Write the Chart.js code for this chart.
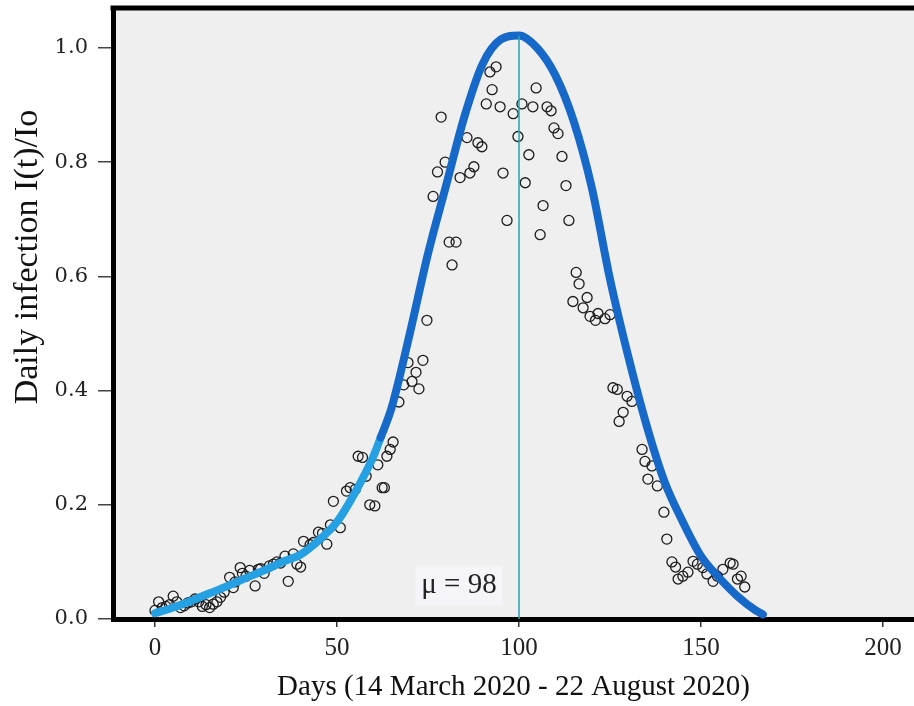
<!DOCTYPE html>
<html>
<head>
<meta charset="utf-8">
<script src="https://cdn.jsdelivr.net/npm/chart.js@4.4.0/dist/chart.umd.min.js"></script>
<style>
  html, body { margin: 0; padding: 0; background: #fff; }
  #wrap { width: 914px; height: 706px; }
</style>
</head>
<body>
<div id="wrap"><canvas id="chart" width="914" height="706"></canvas></div>
<script>
const obsDays = [
  0, 1, 2, 3, 4, 5, 6, 7, 8, 9, 10, 11, 12, 13, 14, 15, 16, 17, 18, 19,
  20.5, 21.5, 22, 23.4, 24, 25, 26, 27.5, 28.4, 29, 30, 31.4, 32.5, 33.5, 34.5, 35.7, 36.6, 38, 39, 40,
  40.8, 42.6, 43.5, 44.9, 46, 47.2, 48.2, 49, 50.9, 52.6, 53.6, 55, 55.8, 57, 58, 59, 60.4, 61.2, 62.4, 63,
  63.7, 64.6, 65.4, 67, 68.3, 69.5, 70.6, 71.7, 72.5, 73.6, 74.7, 76.4, 77.6, 78.6, 79.7, 80.8, 81.6, 82.7, 83.8, 85.7,
  86.5, 87.6, 88.7, 89.8, 91, 92, 92.6, 93.7, 94.8, 95.6, 96.7, 98.4, 99.7, 100.8, 101.7, 102.7, 103.8, 104.7, 105.8, 106.6,
  107.7, 108.8, 109.6, 110.7, 111.8, 112.9, 113.7, 114.8, 115.7, 116.5, 117.6, 118.7, 119.5, 121, 121.7, 123.6, 125, 125.8, 127, 127.5,
  128.6, 129.7, 131, 133.8, 134.6, 135.4, 136.5, 138, 139.8, 140.6, 142, 143, 143.7, 145, 146.4, 147.8, 149, 150.5, 151.6, 153.3,
  154.5, 156, 158, 158.8, 160, 161, 162
]
const obsValues = [
  0.015, 0.03, 0.02, 0.022, 0.025, 0.04, 0.03, 0.02, 0.023, 0.028, 0.03, 0.035, 0.03, 0.022, 0.025, 0.02, 0.026, 0.03, 0.038, 0.047,
  0.073, 0.055, 0.065, 0.09, 0.08, 0.075, 0.085, 0.058, 0.087, 0.088, 0.08, 0.093, 0.096, 0.1, 0.098, 0.11, 0.066, 0.114, 0.096, 0.091,
  0.136, 0.13, 0.134, 0.152, 0.15, 0.131, 0.165, 0.206, 0.16, 0.224, 0.23, 0.227, 0.285, 0.283, 0.25, 0.2, 0.198, 0.27, 0.23, 0.23,
  0.285, 0.297, 0.31, 0.38, 0.41, 0.449, 0.416, 0.432, 0.403, 0.453, 0.523, 0.74, 0.783, 0.879, 0.8, 0.66, 0.62, 0.66, 0.773, 0.843,
  0.781, 0.792, 0.834, 0.827, 0.902, 0.958, 0.927, 0.967, 0.897, 0.781, 0.698, 0.885, 0.845, 0.902, 0.764, 0.813, 0.897, 0.93, 0.673, 0.724,
  0.897, 0.89, 0.86, 0.85, 0.81, 0.759, 0.698, 0.556, 0.607, 0.587, 0.545, 0.563, 0.53, 0.523, 0.535, 0.526, 0.533, 0.405, 0.402, 0.346,
  0.362, 0.39, 0.381, 0.297, 0.276, 0.245, 0.268, 0.233, 0.187, 0.14, 0.1, 0.091, 0.07, 0.075, 0.082, 0.101, 0.096, 0.09, 0.079, 0.066,
  0.075, 0.087, 0.098, 0.096, 0.07, 0.075, 0.056
]

// fitted curve
const fitDays = [0, 5, 10, 15, 20, 25, 30, 35, 40, 45, 50, 55, 60, 62, 65, 70, 75, 80, 85, 90,
  95, 100, 105, 110, 115, 120, 125, 130, 135, 140, 145, 150, 155, 160, 165, 167]
const fitValues = [0.01, 0.02, 0.032, 0.045, 0.058, 0.072, 0.085, 0.1, 0.113, 0.138, 0.17, 0.222, 0.285, 0.318, 0.37, 0.5, 0.64, 0.76, 0.88, 0.972,
  1.015, 1.022, 1.0, 0.952, 0.872, 0.755, 0.595, 0.46, 0.34, 0.24, 0.17, 0.11, 0.072, 0.04, 0.015, 0.008]

const peakDay = 100
const peakValue = 1.022
const splitDay = 62

const xTicks = [0, 50, 100, 150, 200]
const yTicks = [0, 0.2, 0.4, 0.6, 0.8, 1.0]

const muText = 'μ = 98'
const muAt = {x: 83.5, y: 0.058}
const yTitle = 'Daily infection I(t)/Io'

const lightBlue = '#25a0e2'
const darkBlue = '#1668c9'

const pairs = (xs, ys) => xs.map((x, i) => ({x: x, y: ys[i]}))

const frame = {
  id: 'frame',
  beforeDraw(chart) {
    const {ctx, chartArea: a} = chart
    ctx.save()
    ctx.fillStyle = '#efefef'
    ctx.fillRect(a.left, a.top, a.right - a.left, a.bottom - a.top)
    ctx.restore()
  },
  afterDatasetsDraw(chart) {
    const {ctx, chartArea: a, scales} = chart
    ctx.save()
    ctx.strokeStyle = '#000'
    ctx.lineWidth = 5
    ctx.beginPath()
    ctx.moveTo(a.left - 2.5, a.top)
    ctx.lineTo(a.right, a.top)
    ctx.stroke()

    // mu label
    let x = scales.x.getPixelForValue(muAt.x)
    let y = scales.y.getPixelForValue(muAt.y)
    ctx.font = '29px "Liberation Serif"'
    let w = ctx.measureText(muText).width
    ctx.fillStyle = '#f5f5f9'
    ctx.fillRect(x - w / 2 - 6, y - 20, w + 12, 40)
    ctx.fillStyle = '#222'
    ctx.textAlign = 'center'
    ctx.textBaseline = 'middle'
    ctx.fillText(muText, x, y)

    // y axis title, sits above the middle like the original
    ctx.translate(28, 257)
    ctx.rotate(-Math.PI / 2)
    ctx.font = '34px "Liberation Serif"'
    ctx.fillStyle = '#111'
    ctx.fillText(yTitle, 0, 0)
    ctx.restore()
  }
}

new Chart(document.getElementById('chart'), {
  type: 'line',
  data: {
    datasets: [
      {
        type: 'line',
        data: [{x: peakDay, y: 0}, {x: peakDay, y: peakValue}],
        borderColor: '#23a4b6',
        borderWidth: 1.5,
        pointRadius: 0,
        order: 0
      },
      {
        type: 'line',
        data: pairs(fitDays, fitValues),
        borderColor: darkBlue,
        borderWidth: 8,
        borderCapStyle: 'round',
        borderJoinStyle: 'round',
        pointRadius: 0,
        cubicInterpolationMode: 'monotone',
        segment: {
          borderColor: c => c.p0.parsed.x < splitDay ? lightBlue : darkBlue
        },
        order: 1
      },
      {
        type: 'scatter',
        data: pairs(obsDays, obsValues),
        pointStyle: 'circle',
        pointRadius: 5,
        borderColor: '#1c1c1c',
        borderWidth: 1.3,
        backgroundColor: 'rgba(0,0,0,0)',
        order: 2
      }
    ]
  },
  options: {
    responsive: false,
    animation: false,
    devicePixelRatio: 1,
    layout: {autoPadding: false, padding: {top: 8, right: 0, left: 0, bottom: 0}},
    plugins: {legend: {display: false}, tooltip: {enabled: false}},
    scales: {
      x: {
        type: 'linear',
        min: -11.54,
        max: 208.5,
        afterBuildTicks: s => { s.ticks = xTicks.map(v => ({value: v})) },
        afterFit: s => {
          s.height = 87
          s.paddingLeft = 0
          s.paddingRight = 0
        },
        grid: {display: true, drawOnChartArea: false, drawTicks: true, tickLength: 8, color: '#333', lineWidth: 1.5},
        border: {display: true, color: '#000', width: 5},
        ticks: {font: {family: 'Liberation Serif', size: 25}, color: '#222', padding: 6, maxRotation: 0},
        title: {
          display: true,
          text: 'Days (14 March 2020 - 22 August 2020)',
          font: {family: 'Liberation Serif', size: 29},
          color: '#111',
          padding: {top: 0, bottom: 1}
        }
      },
      y: {
        type: 'linear',
        min: 0,
        max: 1.07,
        afterBuildTicks: s => { s.ticks = yTicks.map(v => ({value: v})) },
        afterFit: s => {
          s.width = 113
          s.paddingTop = 0
          s.paddingBottom = 0
        },
        grid: {display: true, drawOnChartArea: false, drawTicks: true, tickLength: 15, color: '#444', lineWidth: 1.5},
        border: {display: true, color: '#000', width: 5},
        ticks: {
          font: {family: 'DejaVu Serif', size: 21},
          color: '#222',
          padding: 10,
          callback: v => v.toFixed(1)
        },
        title: {display: false}
      }
    }
  },
  plugins: [frame]
})
</script>
</body>
</html>
